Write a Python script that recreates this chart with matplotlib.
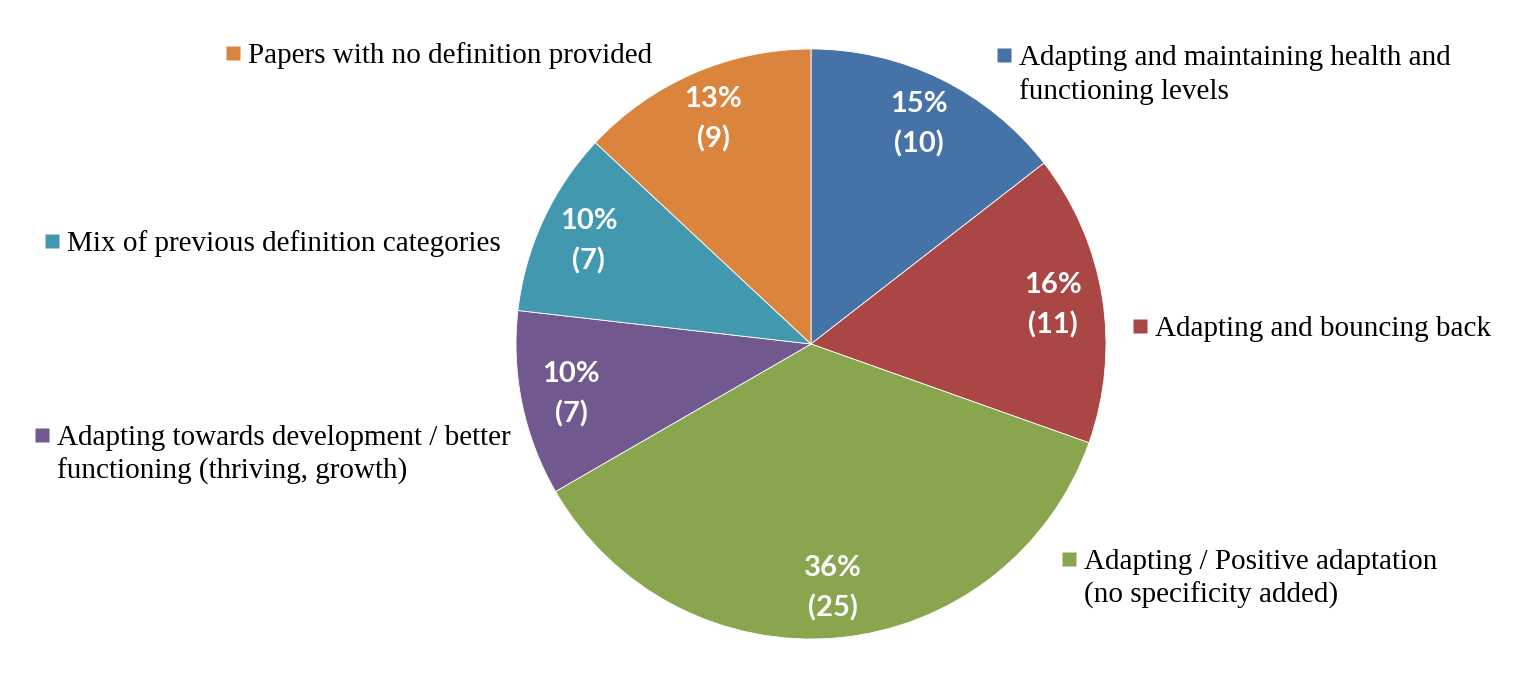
import matplotlib

matplotlib.use("Agg")
import matplotlib.pyplot as plt

# данные: число статей по категориям определения
categories = [
    "Adapting and maintaining health and\nfunctioning levels",
    "Adapting and bouncing back",
    "Adapting / Positive adaptation\n(no specificity added)",
    "Adapting towards development / better\nfunctioning (thriving, growth)",
    "Mix of previous definition categories",
    "Papers with no definition provided",
]
counts = [10, 11, 25, 7, 7, 9]
percents = [15, 16, 36, 10, 10, 13]  # как подписано на исходной диаграмме
colors = ["#4572A7", "#AA4643", "#89A54E", "#71588F", "#4198AF", "#DB843D"]

W, H = 1535, 674
fig = plt.figure(figsize=(W / 100, H / 100), dpi=100)
ax = fig.add_axes([0, 0, 1, 1])
ax.set_aspect("equal")
ax.axis("off")

wedges, _, autotexts = ax.pie(
    counts, colors=colors, startangle=90, counterclock=False,
    center=(811, H - 344), radius=295, autopct="%.0f", pctdistance=0.83,
    wedgeprops=dict(edgecolor="white", linewidth=0.6),
    textprops=dict(color="white", fontsize=21, fontweight="bold",
                   family="Lato", linespacing=1.6),
)
for t, p, n in zip(autotexts, percents, counts):
    t.set_text(f"{p}%\n({n})")
ax.set_xlim(0, W)
ax.set_ylim(0, H)

# подписи-легенда: (x квадрата, базовая линия первой строки) в пикселях
label_pos = [(1004, 65), (1140, 336), (1069, 569), (42, 445), (52, 251), (233, 63)]
for (x, yb), text, c in zip(label_pos, categories, colors):
    ax.plot([x], [H - (yb - 10)], marker="s", ms=10.5, color=c, mec="none")
    for i, line in enumerate(text.split("\n")):
        ax.text(x + 15, H - (yb + 34 * i), line, fontsize=21,
                family="Liberation Serif", va="baseline", ha="left")

fig.savefig("out.png", dpi=100)
